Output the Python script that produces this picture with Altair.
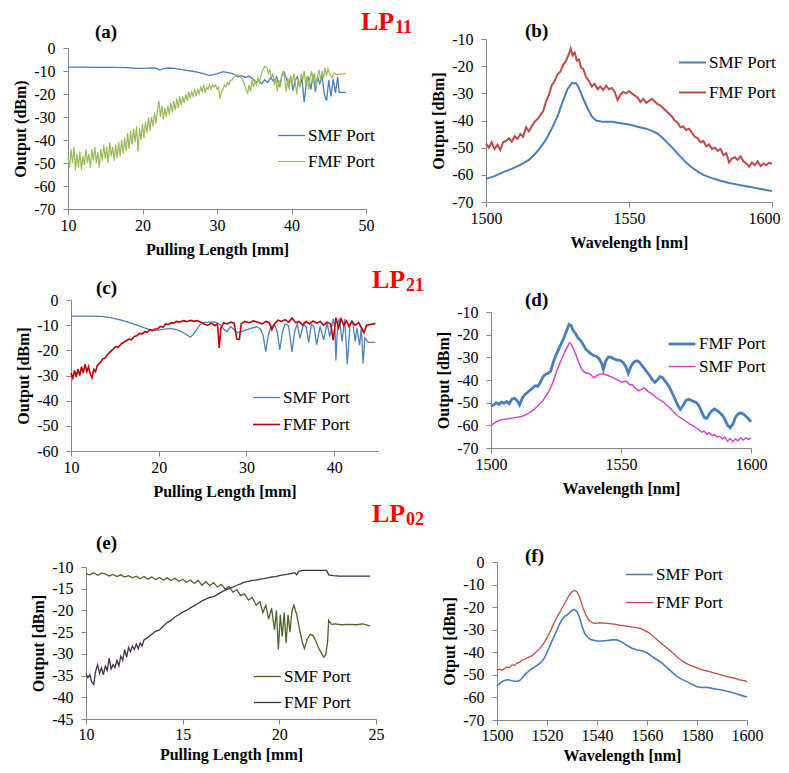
import altair as alt
import pandas as pd

FONT = "Liberation Serif"
W, H = 773, 757

# ---------------- (a) LP11 vs pulling length ----------------
A_SMF = [(10, -8.3), (12, -8.3), (14, -8.4), (16, -8.4), (18, -8.5), (19, -8.8), (20, -8.9), (21, -8.6),
         (21.8, -8.8), (22.3, -9.6), (22.8, -9.0), (23.5, -8.7), (24.5, -9.0), (25.5, -9.5), (26.5, -10.0),
         (27.5, -10.6), (28.3, -11.3), (29, -12.0), (29.5, -11.6), (30, -11.2), (30.8, -10.3), (31.5, -10.7),
         (32.2, -11.2), (32.8, -12.5), (33.3, -12.0), (33.8, -12.8), (34.3, -12.2), (34.8, -13.5), (35.2, -15.0),
         (35.6, -14.0), (36.0, -15.5), (36.4, -13.8), (36.8, -15.0), (37.2, -13.0), (37.6, -14.5), (38.0, -12.5),
         (38.4, -17.0), (38.7, -12.0), (39.0, -10.5), (39.3, -13.0), (39.6, -16.5), (39.9, -12.5), (40.2, -18.5),
         (40.5, -14.0), (40.8, -12.5), (41.1, -17.0), (41.4, -13.0), (41.7, -23.5), (42.0, -15.0), (42.3, -13.0),
         (42.6, -18.0), (42.9, -11.5), (43.2, -19.0), (43.5, -12.5), (43.8, -15.5), (44.1, -12.0), (44.4, -20.0),
         (44.7, -23.0), (45.0, -14.0), (45.3, -21.0), (45.6, -13.5), (45.9, -19.5), (46.2, -12.5), (46.4, -19.3),
         (47.3, -19.3)]
A_FMF = [(10.0, -47), (10.2, -52), (10.4, -44), (10.6, -50), (10.8, -43), (11.0, -53), (11.2, -46), (11.4, -52),
         (11.6, -45), (11.8, -53), (12.0, -47), (12.2, -51), (12.4, -44), (12.6, -50), (12.8, -46), (13.0, -52),
         (13.2, -44), (13.4, -49), (13.6, -43), (13.8, -50), (14.0, -45), (14.2, -52), (14.4, -44), (14.6, -49),
         (14.8, -42), (15.0, -48), (15.2, -43), (15.4, -50), (15.6, -41), (15.8, -47), (16.0, -43), (16.2, -49),
         (16.4, -42), (16.6, -48), (16.8, -41), (17.0, -47), (17.2, -40), (17.4, -46), (17.6, -39), (17.8, -45),
         (18.0, -37), (18.2, -44), (18.4, -36), (18.6, -42), (18.8, -35), (19.0, -41), (19.2, -34), (19.4, -45),
         (19.6, -35), (19.8, -40), (20.0, -33), (20.2, -39), (20.4, -32), (20.6, -37), (20.8, -30), (21.0, -36),
         (21.2, -30), (21.4, -34), (21.6, -28), (21.8, -33), (22.0, -27), (22.2, -23), (22.4, -30), (22.6, -25),
         (22.8, -31), (23.0, -26), (23.2, -30), (23.4, -25), (23.6, -29), (23.8, -24), (24.0, -28), (24.2, -23),
         (24.4, -27), (24.6, -22), (24.8, -26), (25.0, -21), (25.2, -25), (25.4, -21), (25.6, -24), (25.8, -20),
         (26.0, -23), (26.2, -19), (26.4, -22), (26.6, -19), (26.8, -21), (27.0, -18), (27.2, -21), (27.4, -18),
         (27.6, -20), (27.8, -17), (28.0, -19), (28.2, -16), (28.4, -19), (28.6, -17), (28.8, -18), (29.0, -16),
         (29.2, -18), (29.4, -16), (29.6, -17), (29.8, -16), (30.0, -18), (30.2, -17), (30.4, -22), (30.6, -19),
         (30.8, -18), (31.0, -16), (31.2, -17), (31.4, -15), (31.6, -16), (31.8, -14), (32.0, -14), (32.2, -13),
         (32.4, -12.5), (32.6, -12), (32.8, -11.5), (33.0, -12), (33.3, -13), (33.6, -15), (33.9, -18), (34.1, -20),
         (34.3, -16), (34.5, -19), (34.7, -14), (34.9, -17), (35.1, -14), (35.3, -16), (35.5, -13), (35.7, -15),
         (35.9, -12), (36.1, -10), (36.4, -8), (36.7, -8.5), (36.9, -11), (37.1, -9.5), (37.3, -13), (37.5, -11),
         (37.7, -16), (37.9, -13), (38.1, -19), (38.3, -14), (38.5, -17), (38.7, -12), (38.9, -10), (39.1, -14),
         (39.3, -19), (39.5, -13), (39.7, -18), (39.9, -12), (40.1, -16), (40.3, -11), (40.5, -15), (40.7, -20),
         (40.9, -13), (41.1, -17), (41.3, -11), (41.5, -14), (41.7, -10), (41.9, -16), (42.1, -12), (42.3, -18),
         (42.5, -13), (42.7, -10), (42.9, -15), (43.1, -11), (43.3, -17), (43.5, -12), (43.7, -9.5), (43.9, -14),
         (44.1, -10), (44.3, -13), (44.5, -8.5), (44.7, -12), (44.9, -9), (45.1, -11), (45.4, -13), (45.7, -11),
         (46.0, -11.5), (46.5, -11.5), (47.3, -11)]

# ---------------- (b) LP11 spectra ----------------
B_SMF = [(1500, -61.5), (1503, -60.5), (1506, -59), (1509, -57.8), (1512, -56.3), (1515, -54.5), (1517, -52.5),
         (1519, -50), (1521, -47), (1523, -43), (1525, -38.5), (1527, -32.5), (1528.5, -28.5), (1530, -26.2),
         (1531.5, -26.3), (1532.5, -28), (1534, -32), (1535.5, -35.5), (1537, -38.5), (1538.5, -40), (1541, -40.5),
         (1544, -40.5), (1547, -41), (1550, -41.5), (1553, -42.3), (1556, -43), (1558, -43.8), (1560, -44.8),
         (1562, -46.7), (1564, -48.8), (1566, -51), (1568, -53.3), (1570, -55.5), (1572, -57.3), (1574, -58.8),
         (1576, -60), (1579, -61.2), (1582, -62.2), (1585, -63), (1588, -63.6), (1591, -64.2), (1594, -64.8),
         (1597, -65.4), (1600, -66)]
B_FMF = [(1500, -48.5), (1501, -50), (1502, -48), (1503, -50.5), (1504, -49), (1505, -50.8), (1506, -48),
         (1507, -47.5), (1508, -46.5), (1509, -47.8), (1510, -45.8), (1511, -46.8), (1512, -45), (1513, -46),
         (1514, -42.5), (1515, -44), (1516, -42), (1517, -40.5), (1518, -39.5), (1519, -38), (1520, -36.5),
         (1521, -33), (1522, -30.5), (1523, -27), (1524, -25.5), (1525, -23), (1526, -22), (1527, -19.5),
         (1528, -18), (1529, -15.5), (1529.6, -13.5), (1530.3, -16), (1531, -15), (1531.8, -18), (1532.5, -17.5),
         (1533.2, -20.5), (1534, -21), (1535, -24), (1536, -25.5), (1537, -27.5), (1538, -26.5), (1539, -28.5),
         (1540, -27.5), (1541, -28.8), (1542, -27.2), (1543, -28.5), (1544, -28), (1545, -29.5), (1546, -32.5),
         (1547, -30.5), (1548, -29.5), (1549, -30), (1550, -29.2), (1551, -30), (1552, -30.8), (1553, -31.5),
         (1554, -33.2), (1555, -32), (1556, -33.5), (1557, -32.8), (1558, -32), (1559, -33), (1560, -34),
         (1561, -34.5), (1562, -35.5), (1563, -36.5), (1564, -37.5), (1565, -38.5), (1566, -40), (1567, -40.8),
         (1568, -42.5), (1569, -42.2), (1570, -43.5), (1571, -43), (1572, -44.5), (1573, -46), (1574, -46.5),
         (1575, -48), (1576, -47.5), (1577, -49.5), (1578, -48.8), (1579, -50.5), (1580, -50), (1581, -51.2),
         (1582, -50.5), (1583, -52.8), (1584, -52), (1585, -55.5), (1586, -54), (1587, -53.5), (1588, -54.5),
         (1589, -53.2), (1590, -55), (1591, -55.8), (1592, -57), (1593, -55.5), (1594, -56.5), (1595, -55),
         (1596, -56.8), (1597, -55.8), (1598, -56.5), (1599, -55.5), (1600, -56)]

# ---------------- (c) LP21 vs pulling length ----------------
C_SMF = [(10, -6.4), (12, -6.4), (13.5, -6.5), (14.5, -7), (15.5, -7.8), (16.5, -8.8), (17.5, -10), (18.3, -11),
         (19, -11.8), (19.8, -12.1), (20.5, -11.7), (21.3, -11.3), (22, -11.8), (22.6, -12.6), (23.2, -13.8),
         (23.6, -14.8), (23.9, -13.8), (24.3, -12), (24.7, -9.8), (25.2, -9), (25.8, -8.8), (26.4, -8.7),
         (27, -9.8), (27.4, -11.5), (27.8, -12.6), (28.2, -10.5), (28.6, -11.8), (29, -13), (29.5, -12.5),
         (30, -11.9), (30.6, -11.2), (31.2, -10.6), (31.6, -11.5), (31.9, -14), (32.2, -20.5), (32.5, -14),
         (32.8, -10.5), (33.2, -9.8), (33.5, -12.5), (33.8, -19.8), (34.1, -13), (34.4, -9.5), (34.8, -10.2),
         (35.2, -20.6), (35.5, -12.5), (35.8, -9.5), (36.1, -15.2), (36.5, -9.8), (36.8, -10.5), (37.1, -16.8),
         (37.4, -9.8), (37.7, -10.5), (38.0, -17.8), (38.4, -10.5), (38.8, -15.8), (39.2, -9.2), (39.5, -14.6),
         (39.9, -7.4), (40.1, -12), (40.2, -24), (40.4, -10), (40.6, -7.3), (40.9, -16.5), (41.2, -7.5),
         (41.5, -25.6), (41.8, -10), (42.1, -8.5), (42.4, -16.5), (42.6, -11.3), (42.9, -18), (43.1, -11),
         (43.3, -25.2), (43.5, -15), (43.9, -16.8), (44.7, -16.8)]
C_FMF = [(10.0, -29), (10.2, -31), (10.4, -28), (10.6, -30.5), (10.8, -27.5), (11.0, -30), (11.2, -26.5),
         (11.4, -29), (11.6, -25.5), (11.8, -28.5), (12.0, -26.5), (12.2, -29.5), (12.4, -31), (12.6, -27.5),
         (12.8, -28.5), (13.0, -26), (13.3, -25), (13.6, -23.5), (13.9, -23), (14.2, -21.5), (14.5, -20.5),
         (14.8, -19.5), (15.1, -18.5), (15.4, -18.8), (15.7, -17.5), (16.0, -16.8), (16.3, -16.2), (16.6, -15.5),
         (16.9, -15.8), (17.2, -14.5), (17.5, -14.2), (17.8, -13.3), (18.1, -13.5), (18.4, -12.6), (18.7, -12.8),
         (19.0, -11.8), (19.3, -12.2), (19.6, -11.5), (19.9, -11.4), (20.2, -10.5), (20.5, -10.8), (20.8, -9.5),
         (21.1, -9.8), (21.4, -9), (21.7, -9.2), (22.0, -8.5), (22.4, -8.8), (22.8, -8.2), (23.2, -8.6),
         (23.6, -8.1), (24.0, -8.5), (24.4, -8.2), (24.8, -8.8), (25.2, -9.5), (25.6, -10), (26.0, -9.2),
         (26.4, -10.2), (26.7, -9.5), (26.9, -19), (27.1, -11), (27.4, -9), (27.8, -9.5), (28.2, -8.8),
         (28.6, -9.2), (28.9, -15.5), (29.2, -15.6), (29.4, -9.5), (29.8, -8.5), (30.3, -9), (30.8, -8.3),
         (31.3, -8.8), (31.8, -9.5), (32.2, -8.5), (32.6, -9.0), (32.9, -11.8), (33.2, -9.5), (33.6, -8),
         (34.0, -8.5), (34.4, -7.8), (34.8, -8.8), (35.2, -7.2), (35.6, -9), (36.0, -8.5), (36.4, -10),
         (36.8, -8.5), (37.2, -9.5), (37.6, -8.3), (38.0, -9.2), (38.4, -8.5), (38.8, -10), (39.2, -8.8),
         (39.6, -9.5), (39.9, -16), (40.2, -7), (40.5, -11), (40.8, -7.5), (41.1, -10), (41.4, -8.3),
         (41.7, -10.5), (42.0, -8.5), (42.4, -10), (42.8, -9), (43.1, -11), (43.4, -13), (43.7, -10),
         (44.0, -9.8), (44.7, -9.3)]

# ---------------- (d) LP21 spectra ----------------
D_FMF = [(1500, -51.5), (1501, -51), (1502, -50), (1503, -50.8), (1504, -49.8), (1505, -50.2), (1506, -49.5),
         (1507, -50.5), (1508, -48.5), (1509, -48), (1510, -49), (1511, -51), (1512, -48), (1513, -46.5),
         (1514, -45.5), (1515, -44.5), (1516, -43.5), (1517, -42.5), (1518, -42.8), (1519, -41), (1520, -38.5),
         (1521, -37.5), (1522, -37), (1523, -36), (1524, -32), (1525, -29), (1526, -26.5), (1527, -24),
         (1528, -21.5), (1529, -18.5), (1530, -15.5), (1530.8, -16), (1531.5, -18), (1532.5, -19.5),
         (1533.5, -21.5), (1534.5, -22.5), (1535.5, -24.5), (1536.5, -26.5), (1537.5, -27.5), (1538.5, -28.5),
         (1539.5, -29.2), (1540.5, -29.5), (1541.5, -30.5), (1542.5, -32.5), (1543.2, -35.5), (1544, -32),
         (1545, -30), (1546, -29.8), (1547, -30.5), (1548, -31), (1549, -31.2), (1550, -31.5), (1551, -32.5),
         (1552, -34.5), (1552.8, -37), (1553.8, -34), (1555, -32), (1556, -31.5), (1557, -32), (1558, -33.5),
         (1559, -35), (1560, -36.5), (1561, -38), (1562, -39.8), (1563, -41), (1564, -40), (1565, -38.5),
         (1566, -39), (1567, -40.5), (1568, -42), (1569, -44), (1570, -46.5), (1571, -49), (1572, -51.5),
         (1572.8, -53), (1574, -51), (1575, -49), (1576, -48.5), (1577, -49), (1578, -49.5), (1579, -50),
         (1580, -51.5), (1581, -54), (1582, -56.5), (1583, -57), (1584, -55), (1585, -53.5), (1586, -52.8),
         (1587, -53.5), (1588, -54.5), (1589, -55.5), (1590, -57.5), (1591, -60), (1592, -61), (1593, -59.5),
         (1594, -56.5), (1595, -55), (1596, -54.5), (1597, -55), (1598, -56), (1599, -57), (1600, -58.5)]
D_SMF = [(1500, -60), (1502, -58.5), (1504, -57.5), (1506, -57.2), (1508, -56.8), (1510, -56.5), (1512, -56),
         (1514, -55), (1516, -53.5), (1518, -51.5), (1520, -49), (1522, -45.5), (1523.5, -42), (1525, -37),
         (1526.5, -32.5), (1528, -28.5), (1529.3, -25.5), (1530.2, -23.5), (1531, -24.5), (1532, -27), (1533, -30),
         (1534, -33), (1535, -35.5), (1536.2, -36.8), (1537.5, -37), (1538.5, -37.8), (1539.5, -39), (1540.5, -38.2),
         (1541.5, -37.5), (1543, -37.3), (1544.5, -37.8), (1546, -38.5), (1547.5, -39.3), (1549, -40.2),
         (1550.5, -41), (1552, -40.5), (1553.3, -42), (1554.5, -42.2), (1555.5, -43.5), (1556.7, -44.8),
         (1558, -44), (1559, -43.5), (1560.3, -45), (1561.5, -45.8), (1563, -47.2), (1564.5, -48.5), (1566, -49.5),
         (1567.5, -51), (1569, -52.5), (1570.5, -54.5), (1572, -56), (1573.5, -57), (1575, -58.2), (1576.5, -59.5),
         (1578, -60.5), (1579.5, -61.5), (1581, -63), (1582, -62.5), (1583, -64), (1584, -63.2), (1585, -64.5),
         (1586, -64), (1587, -65.2), (1588, -64.8), (1589, -66), (1590, -65.2), (1591, -67), (1592, -65.8),
         (1593, -67.2), (1594, -66), (1595, -66.8), (1596, -65.5), (1597, -66.5), (1598, -65.5), (1599, -66.2),
         (1600, -65.5)]

# ---------------- (e) LP02 vs pulling length ----------------
E_SMF = [(10.0, -11.5), (10.2, -11.8), (10.4, -11.3), (10.6, -11.9), (10.8, -11.4), (11.0, -11.6), (11.2, -12.1),
         (11.4, -11.7), (11.6, -12.2), (11.8, -11.8), (12.0, -12.3), (12.2, -12.0), (12.4, -12.5), (12.6, -12.1),
         (12.8, -12.7), (13.0, -12.2), (13.2, -12.8), (13.4, -12.3), (13.6, -12.9), (13.8, -12.4), (14.0, -13.0),
         (14.2, -12.5), (14.4, -13.1), (14.6, -12.6), (14.8, -13.3), (15.0, -12.8), (15.2, -13.5), (15.4, -13.0),
         (15.6, -13.8), (15.8, -13.1), (16.0, -14.2), (16.2, -13.4), (16.4, -14.3), (16.6, -13.6), (16.8, -14.6),
         (17.0, -14.0), (17.2, -15.1), (17.4, -14.5), (17.6, -15.8), (17.8, -15.2), (18.0, -16.6), (18.2, -16.2),
         (18.4, -17.6), (18.6, -17.0), (18.8, -18.8), (19.0, -18.0), (19.15, -20.5), (19.3, -18.8), (19.45, -22),
         (19.6, -19.5), (19.75, -24.5), (19.85, -20), (19.95, -29), (20.05, -21), (20.15, -26), (20.25, -20.5),
         (20.35, -27.5), (20.45, -21), (20.55, -25), (20.65, -20.2), (20.75, -18.8), (20.9, -21), (21.05, -24.5),
         (21.2, -27.5), (21.3, -28.8), (21.45, -26.5), (21.6, -25.5), (21.75, -25.8), (21.9, -27.2), (22.05, -28.8),
         (22.2, -30), (22.3, -30.8), (22.4, -30.2), (22.5, -27), (22.55, -22.3), (22.7, -23.2), (22.9, -23.1),
         (23.2, -23.3), (23.6, -23.2), (24.0, -23.3), (24.3, -23.1), (24.5, -23.3), (24.7, -23.6)]
E_FMF = [(10.0, -34.5), (10.1, -35.5), (10.2, -34.8), (10.3, -36.5), (10.4, -37), (10.5, -34), (10.6, -32.5),
         (10.7, -34.5), (10.8, -33.2), (10.9, -34.8), (11.0, -32.8), (11.1, -33.8), (11.2, -31), (11.3, -33.5),
         (11.4, -32.5), (11.5, -33.2), (11.6, -31.5), (11.7, -32.8), (11.8, -30.5), (11.9, -31.5), (12.0, -29),
         (12.1, -30.8), (12.2, -28.5), (12.3, -29.5), (12.4, -28.2), (12.5, -29), (12.6, -27.8), (12.7, -28.8),
         (12.8, -27.5), (12.9, -28.2), (13.0, -26.8), (13.2, -26.2), (13.4, -25.5), (13.6, -24.8), (13.8, -24.5),
         (14.0, -23.6), (14.2, -22.8), (14.4, -22.3), (14.6, -21.5), (14.8, -21), (15.0, -20.4), (15.2, -20),
         (15.4, -19.4), (15.6, -18.9), (15.8, -18.4), (16.0, -17.8), (16.2, -17.4), (16.4, -17.0), (16.6, -16.8),
         (16.8, -16.3), (17.0, -15.8), (17.2, -15.3), (17.4, -15), (17.6, -14.6), (17.8, -14.2), (18.0, -13.9),
         (18.2, -13.5), (18.4, -13.3), (18.6, -13.1), (18.8, -13.0), (19.0, -12.8), (19.2, -12.7), (19.4, -12.5),
         (19.6, -12.3), (19.8, -12.2), (20.0, -12.0), (20.2, -11.8), (20.4, -11.7), (20.6, -11.5), (20.8, -11.3),
         (20.9, -11.8), (21.0, -11.0), (21.2, -10.8), (21.5, -10.8), (22.0, -10.8), (22.45, -10.8), (22.55, -11.8),
         (22.8, -12.0), (23.1, -12.1), (23.5, -12.1), (24.0, -12.1), (24.7, -12.1)]

# ---------------- (f) LP02 spectra ----------------
F_SMF = [(1500, -55), (1501, -54), (1502, -53), (1503, -52.5), (1504, -52.2), (1505, -52.3), (1506, -52.6),
         (1507, -52.8), (1508, -52.8), (1509, -52.5), (1510, -51.5), (1511, -50), (1512, -49), (1513, -48),
         (1514, -47.3), (1515, -46.5), (1516, -45.8), (1517, -45), (1518, -44), (1519, -42.5), (1520, -40),
         (1521, -37.5), (1522, -35), (1523, -32.5), (1524, -30), (1525, -27.5), (1526, -25.5), (1527, -24.2),
         (1528, -23.5), (1529, -22.5), (1530, -21.5), (1531, -21), (1532, -22), (1533, -24.5), (1534, -28.5),
         (1535, -31.5), (1536, -33), (1537, -34), (1538, -34.5), (1540, -35), (1542, -35), (1544, -34.8),
         (1546, -34.5), (1548, -34.5), (1550, -35.5), (1552, -37), (1554, -38.2), (1556, -39), (1558, -39.3),
         (1560, -40.2), (1562, -41.8), (1564, -43.3), (1566, -44.8), (1568, -46.8), (1570, -48.8), (1572, -50.8),
         (1574, -52), (1576, -53), (1578, -54.2), (1580, -55.3), (1582, -55.6), (1584, -55.5), (1586, -56),
         (1588, -56.4), (1590, -56.7), (1592, -57.3), (1594, -57.8), (1596, -58.5), (1598, -59.2), (1600, -59.8)]
F_FMF = [(1500, -47.8), (1501, -47.5), (1502, -48), (1503, -47.2), (1504, -46.5), (1505, -46.8), (1506, -45.5),
         (1507, -45.8), (1508, -44.8), (1509, -44.5), (1510, -43.5), (1511, -43.2), (1512, -42.5), (1513, -42),
         (1514, -41.5), (1515, -40.5), (1516, -39.5), (1517, -38.5), (1518, -37), (1519, -35.5), (1520, -33.5),
         (1521, -31.5), (1522, -29), (1523, -26.5), (1524, -24.5), (1525, -22.5), (1526, -20.5), (1527, -18.5),
         (1528, -16.5), (1529, -14.5), (1530, -13.2), (1531, -12.6), (1532, -13.2), (1533, -15.5), (1534, -19),
         (1535, -22), (1536, -24.5), (1537, -26), (1538, -26.8), (1539, -27.2), (1541, -27), (1543, -27.1),
         (1545, -27.3), (1547, -27.5), (1549, -28), (1551, -28.3), (1553, -28.6), (1555, -29), (1557, -29.3),
         (1559, -30.3), (1561, -31.5), (1563, -33.5), (1565, -35.3), (1567, -37.2), (1569, -39), (1571, -41),
         (1573, -43), (1575, -44.5), (1577, -45.7), (1579, -46.5), (1581, -47.3), (1583, -48), (1585, -48.6),
         (1587, -49.2), (1589, -49.8), (1591, -50.4), (1593, -51), (1595, -51.5), (1597, -52.2), (1599, -52.6),
         (1600, -53)]

# ---------------- text ----------------
PANEL_LABELS = ["(a)", "(b)", "(c)", "(d)", "(e)", "(f)"]
MODE_NAMES = ["LP", "LP", "LP"]
MODE_SUBS = ["11", "21", "02"]

# ---------------- layout (pixels inside the chart) ----------------
LABEL_POS = [(87, 30), (517, 29), (88, 286), (517, 298), (88, 541), (517, 554)]
MODE_POS = [(353, 22), (364, 280), (364, 514)]
SUB_POS = [(387, 25), (398, 283), (398, 517)]

NEG = "(datum.value < 0 ? '-' : '') + abs(datum.value)"


def panel(series, names, colors, widths, xdom, xr, ydom, yr, xticks, yticks, xtitle, ytitle, leg, rowpad,
          xlabpad=3, xtitlepad=8, xlaboffset=0):
    frames = [pd.DataFrame(pts, columns=["x", "y"]).assign(series=name) for name, pts in series]
    df = pd.concat(frames, ignore_index=True)
    xaxis = alt.Axis(orient="bottom", offset=yr[0] - H, values=xticks, title=xtitle, labelExpr=NEG,
                     labelFlush=False, labelPadding=xlabpad, titlePadding=xtitlepad, tickSize=5,
                     labelOverlap=False,
                     labelOffset={"condition": {"test": f"datum.value == {xdom[1]}", "value": xlaboffset},
                                  "value": 0})
    yaxis = alt.Axis(orient="left", offset=-xr[0], values=yticks, title=ytitle, labelExpr=NEG,
                     labelFlush=False, labelPadding=8, titlePadding=5, tickSize=5, labelOverlap=False)
    legend = alt.Legend(title=None, orient="none", legendX=leg[0], legendY=leg[1], symbolType="stroke",
                        symbolSize=729, symbolStrokeWidth=2, labelFont=FONT, labelFontSize=17,
                        labelColor="black", labelOffset=2, rowPadding=rowpad, padding=0)
    return alt.Chart(df).mark_line(interpolate="linear").encode(
        x=alt.X("x:Q", scale=alt.Scale(domain=xdom, range=xr, nice=False, zero=False), axis=xaxis),
        y=alt.Y("y:Q", scale=alt.Scale(domain=ydom, range=yr, nice=False, zero=False), axis=yaxis),
        color=alt.Color("series:N", scale=alt.Scale(domain=names, range=colors), legend=legend),
        strokeWidth=alt.StrokeWidth("series:N", scale=alt.Scale(domain=names, range=widths), legend=None),
    )


pa = panel([("SMF Port", A_SMF), ("FMF Port", A_FMF)], ["SMF Port", "FMF Port"], ["#4A7EBB", "#9BBB59"],
           [1.3, 1.2], [10, 50], [60, 358], [-70, 0], [201, 40], [10, 20, 30, 40, 50],
           [0, -10, -20, -30, -40, -50, -60, -70], "Pulling Length [mm]", "Output (dBm)", (269, 113), 3)
pb = panel([("SMF Port", B_SMF), ("FMF Port", B_FMF)], ["SMF Port", "FMF Port"], ["#4A7EBB", "#BE4B48"],
           [2, 2], [1500, 1600], [478, 764], [-70, -10], [194, 31], [1500, 1550, 1600],
           [-10, -20, -30, -40, -50, -60, -70], "Wavelength [nm]", "Output [dBm]", (670, 40), 7,
           xlaboffset=-8)
pc = panel([("SMF Port", C_SMF), ("FMF Port", C_FMF)], ["SMF Port", "FMF Port"], ["#4F81BD", "#C00000"],
           [1.3, 1.6], [10, 45], [63, 370], [-60, 0], [443, 292], [10, 20, 30, 40],
           [0, -10, -20, -30, -40, -50, -60], "Pulling Length [mm]", "Output [dBm]", (244, 375), 4)
pd_ = panel([("FMF Port", D_FMF), ("SMF Port", D_SMF)], ["FMF Port", "SMF Port"], ["#4A7EBB", "#D63FC8"],
            [2.8, 1.4], [1500, 1600], [483, 743], [-70, -10], [440, 304], [1500, 1550, 1600],
            [-10, -20, -30, -40, -50, -60, -70], "Wavelength [nm]", "Output [dBm]", (659, 321), -6)
pe = panel([("SMF Port", E_SMF), ("FMF Port", E_FMF)], ["SMF Port", "FMF Port"], ["#4F6228", "#403152"],
           [1.3, 1.3], [10, 25], [78, 368], [-45, -10], [711, 559], [10, 15, 20, 25],
           [-10, -15, -20, -25, -30, -35, -40, -45], "Pulling Length [mm]", "Output [dBm]", (245, 654), 3,
           xlabpad=2, xtitlepad=4)
pf = panel([("SMF Port", F_SMF), ("FMF Port", F_FMF)], ["SMF Port", "FMF Port"], ["#4A7EBB", "#BE4B48"],
           [1.6, 1.3], [1500, 1600], [489, 739], [-70, 0], [712, 554], [1500, 1520, 1540, 1560, 1580, 1600],
           [0, -10, -20, -30, -40, -50, -60, -70], "Wavelength [nm]", "Otput [dBm]", (617, 552), 5,
           xlabpad=2, xtitlepad=4)


def text_layer(texts, pos, size, color):
    df = pd.DataFrame({"t": texts, "px": [p[0] for p in pos], "py": [p[1] for p in pos]})
    return alt.Chart(df).mark_text(font=FONT, fontSize=size, fontWeight="bold", align="left",
                                   baseline="alphabetic", color=color).encode(
        x=alt.X("px:Q", scale=None, axis=None),
        y=alt.Y("py:Q", scale=None, axis=None),
        text="t:N",
    )


labels = text_layer(PANEL_LABELS, LABEL_POS, 19, "black")
modes = text_layer(MODE_NAMES, MODE_POS, 26, "#FF0000")
subs = text_layer(MODE_SUBS, SUB_POS, 18, "#FF0000")

chart = alt.layer(pa, pb, pc, pd_, pe, pf, labels, modes, subs).resolve_scale(
    x="independent", y="independent", color="independent", strokeWidth="independent"
).resolve_axis(x="independent", y="independent").resolve_legend(
    color="independent", strokeWidth="independent"
).properties(
    width=W, height=H, padding=0, autosize=alt.AutoSizeParams(type="none")
).configure_axis(
    labelFont=FONT, labelFontSize=16, labelColor="black", titleFont=FONT, titleFontSize=16,
    titleFontWeight="bold", titleColor="black", domainColor="#868686", tickColor="#868686", grid=False
).configure_view(stroke=None).configure_legend(labelFont=FONT)

chart.save("out.html", embed_options={"renderer": "svg", "actions": False})
